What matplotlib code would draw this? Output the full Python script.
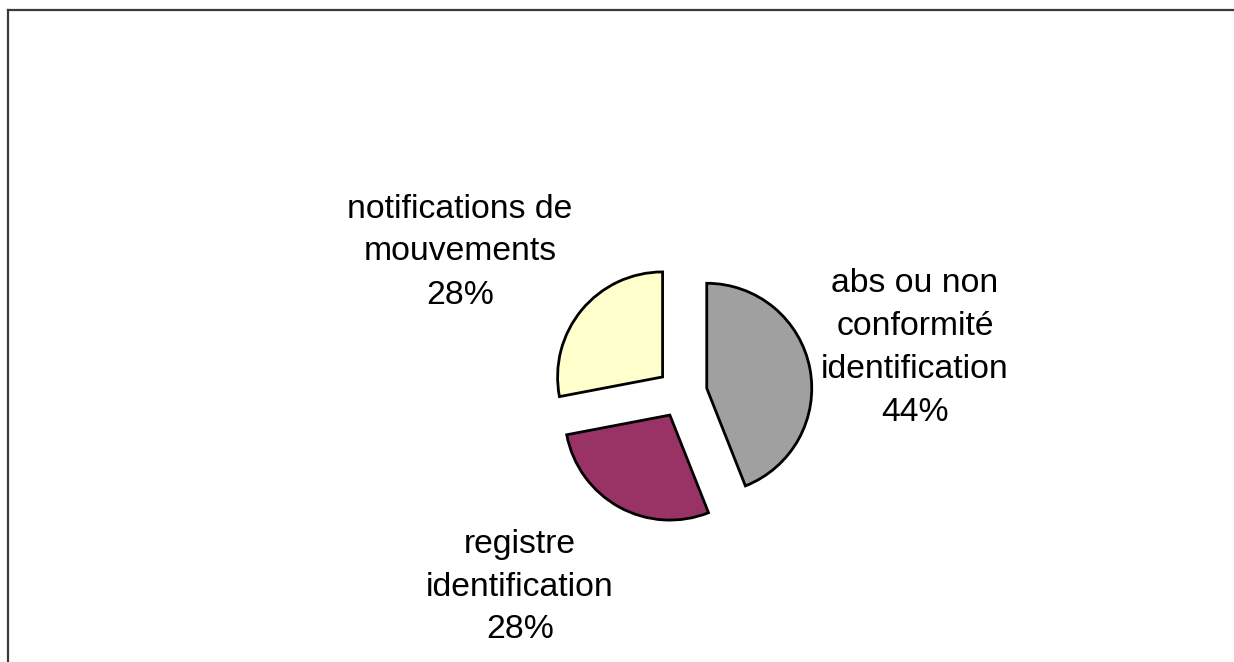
import matplotlib
matplotlib.use("Agg")
import matplotlib.pyplot as plt
from matplotlib.lines import Line2D

labels = ["abs ou non\nconformité\nidentification\n44%",
          "registre\nidentification\n28%",
          "notifications de\nmouvements\n28%"]
values = [44, 28, 28]
colors = ["#A0A0A0", "#993366", "#FFFFCC"]

W, H = 1234, 662
R = 105.0          # pie radius in px
CX, CY = 682, 393  # pie centre in px (from top-left)

fig = plt.figure(figsize=(W / 100, H / 100), dpi=100)
ax = fig.add_axes([0, 0, 1, 1])

wedges, texts = ax.pie(values, labels=labels, colors=colors, startangle=90,
                       counterclock=False, explode=[0.24] * 3, radius=1,
                       center=(0, 0), labeldistance=2.2,
                       wedgeprops=dict(edgecolor="black", linewidth=2.0),
                       textprops=dict(fontsize=24.3, family="Liberation Sans",
                                      color="black", linespacing=1.5))

ax.set_xlim(-CX / R, (W - CX) / R)
ax.set_ylim(-(H - CY) / R, CY / R)
ax.set_aspect("equal")
ax.axis("off")

label_pos = [((915 - CX) / R, (CY - 348) / R),
             ((520 - CX) / R, (CY - 587) / R),
             ((460 - CX) / R, (CY - 252) / R)]
for t, p in zip(texts, label_pos):
    t.set_position(p)
    t.set_ha("center")
    t.set_va("center")
    t.set_multialignment("center")

# outer frame (left and top)
fig.add_artist(Line2D([7.5 / W, 7.5 / W], [0, 1 - 9.5 / H], transform=fig.transFigure,
                      color="#3a3a3a", linewidth=1.6))
fig.add_artist(Line2D([7.5 / W, 1], [1 - 9.5 / H, 1 - 9.5 / H], transform=fig.transFigure,
                      color="#3a3a3a", linewidth=1.6))

fig.savefig("out.png", dpi=100, facecolor="white")
